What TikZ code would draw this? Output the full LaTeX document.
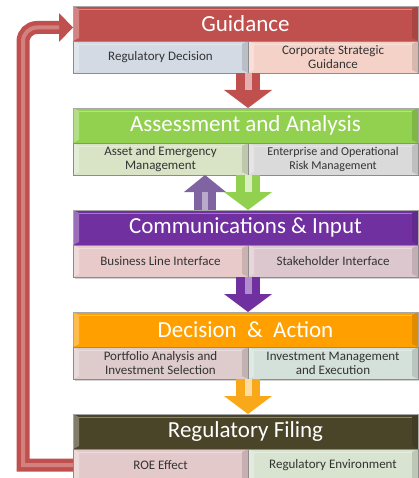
\documentclass[tikz,border=0pt]{standalone}
\usepackage{fontspec}
\setmainfont{Carlito}
\usetikzlibrary{arrows.meta,positioning,shadows}

\definecolor{guidred}{HTML}{C0504D}
\definecolor{guidsubl}{HTML}{D3DAE3}
\definecolor{guidsubr}{HTML}{F5D2C8}
\definecolor{assgreen}{HTML}{92D050}
\definecolor{asssubl}{HTML}{D8E4C5}
\definecolor{asssubr}{HTML}{DADADA}
\definecolor{commpurple}{HTML}{7030A0}
\definecolor{commsubl}{HTML}{E9CACA}
\definecolor{commsubr}{HTML}{DDC7CF}
\definecolor{decorange}{HTML}{FFA000}
\definecolor{decsubl}{HTML}{DECBCB}
\definecolor{decsubr}{HTML}{D4E1DB}
\definecolor{filolive}{HTML}{4A4529}
\definecolor{filsubl}{HTML}{E4C9CB}
\definecolor{filsubr}{HTML}{D8E3D0}
\definecolor{upviolet}{HTML}{8064A2}
\definecolor{goldarr}{HTML}{F8A818}

\tikzset{
  bevel/.style={path picture={
      \path (path picture bounding box.north west) coordinate (pnw)
            (path picture bounding box.south east) coordinate (pse);
      \fill[white, opacity=0.3] (pnw) -- ([xshift=6pt,yshift=-3pt]pnw) -- ([xshift=6pt,yshift=3pt]pnw |- pse) -- (pnw |- pse) -- cycle;
      \fill[black, opacity=0.12] (pse) -- ([xshift=-6pt,yshift=3pt]pse) -- ([xshift=-6pt,yshift=-3pt]pse |- pnw) -- (pse |- pnw) -- cycle;
      \draw[white, opacity=0.35, line width=0.6pt] ([xshift=6pt,yshift=-3pt]pnw) -- ([xshift=-6pt,yshift=-3pt]pse |- pnw);
    }},
  header/.style={draw=black!35, outer sep=0pt, inner sep=0pt, minimum width=345pt,
    minimum height=35pt, text=white, font=\fontsize{23}{26}\selectfont, bevel},
  subbox/.style={draw=black!45, outer sep=0pt, inner sep=0pt, minimum height=32pt,
    align=center, text=black!80, font=\fontsize{13}{14}\selectfont, bevel,
    drop shadow={shadow xshift=1.5pt, shadow yshift=-1.5pt, opacity=0.35}},
  blk/.style={draw=#1, line width=24pt, -{Triangle[width=48pt,length=18pt,line width=0pt]}},
  blkhi/.style={draw=#1, line width=7pt, shorten >=18pt},
  loopline/.style={draw=guidred, line width=13pt, -{Triangle[width=29pt,length=14pt,line width=0pt]}}
}

\begin{document}
\begin{tikzpicture}[x=1pt,y=1pt]
  \useasboundingbox (0,0) rectangle (418,-478);

  % Guidance
  \node[header, fill=guidred, anchor=north west] (guid) at (73,-6) {Guidance};
  \node[subbox, fill=guidsubl, minimum width=175pt, anchor=north west] (guid-l) at (guid.south west) {Regulatory Decision};
  \node[subbox, fill=guidsubr, minimum width=170pt, right=0pt of guid-l] (guid-r) {Corporate Strategic\\Guidance};

  % Assessment and Analysis
  \node[header, fill=assgreen, below=35pt of guid-l.south west, anchor=north west] (assess) {Assessment and Analysis};
  \node[subbox, fill=asssubl, minimum width=175pt, anchor=north west] (assess-l) at (assess.south west) {Asset and Emergency\\Management};
  \node[subbox, fill=asssubr, minimum width=170pt, right=0pt of assess-l, font=\fontsize{12}{14}\selectfont] (assess-r) {Enterprise and Operational\\Risk Management};

  % Communications & Input
  \node[header, fill=commpurple, below=35pt of assess-l.south west, anchor=north west] (comm) {Communications \& Input};
  \node[subbox, fill=commsubl, minimum width=175pt, anchor=north west] (comm-l) at (comm.south west) {Business Line Interface};
  \node[subbox, fill=commsubr, minimum width=170pt, right=0pt of comm-l] (comm-r) {Stakeholder Interface};

  % Decision & Action
  \node[header, fill=decorange, below=35pt of comm-l.south west, anchor=north west] (dec) {Decision~~\&~~Action};
  \node[subbox, fill=decsubl, minimum width=175pt, anchor=north west] (dec-l) at (dec.south west) {Portfolio Analysis and\\Investment Selection};
  \node[subbox, fill=decsubr, minimum width=170pt, right=0pt of dec-l] (dec-r) {Investment Management\\and Execution};

  % Regulatory Filing
  \node[header, fill=filolive, below=35pt of dec-l.south west, anchor=north west] (fil) {Regulatory Filing};
  \node[subbox, fill=filsubl, minimum width=175pt, anchor=north west] (fil-l) at (fil.south west) {ROE Effect};
  \node[subbox, fill=filsubr, minimum width=170pt, right=0pt of fil-l] (fil-r) {Regulatory Environment};

  % block arrows between the stages
  \draw[blk=guidred] (guid-l.south east) -- (guid-l.south east |- assess.north);
  \draw[blkhi=guidred!45!white] (guid-l.south east) -- (guid-l.south east |- assess.north);

  \coordinate (up-x) at ([xshift=-43pt]assess-l.south east);
  \draw[blk=upviolet, line width=22pt, -{Triangle[width=42pt,length=17pt,line width=0pt]}] (up-x |- comm.north) -- (up-x);
  \draw[blkhi=upviolet!55!white, shorten >=17pt, line width=6pt] (up-x |- comm.north) -- (up-x);

  \draw[blk=assgreen] (assess-l.south east) -- (assess-l.south east |- comm.north);
  \draw[blkhi=assgreen!35!white] (assess-l.south east) -- (assess-l.south east |- comm.north);

  \draw[blk=commpurple] (comm-l.south east) -- (comm-l.south east |- dec.north);
  \draw[blkhi=commpurple!55!white] (comm-l.south east) -- (comm-l.south east |- dec.north);

  \draw[blk=goldarr] (dec-l.south east) -- (dec-l.south east |- fil.north);
  \draw[blkhi=goldarr!40!white] (dec-l.south east) -- (dec-l.south east |- fil.north);

  % feedback loop
  \coordinate (loop-x) at (23,0);
  \coordinate (loop-end) at ([yshift=-4pt]guid.west);
  \draw[loopline] (fil-l.west) -- (loop-x |- fil-l.west) [rounded corners=14pt] -- (loop-x |- loop-end) -- (loop-end);
  \draw[guidred!72!white, line width=4pt, shorten >=14pt] (fil-l.west) -- (loop-x |- fil-l.west) [rounded corners=14pt] -- (loop-x |- loop-end) -- (loop-end);
\end{tikzpicture}
\end{document}
